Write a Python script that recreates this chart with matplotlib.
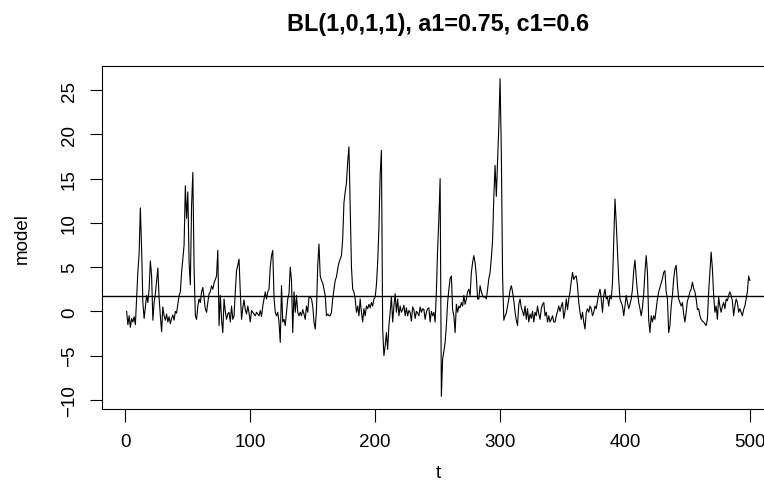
import numpy as np
import matplotlib
matplotlib.use('Agg')
import matplotlib.pyplot as plt

# values, t = 1..500 (50 per row)
model = [
    0.0, -1.5, -0.5, -1.8, -0.8, -1.2, -0.6, -1.5, 1.5, 4.5,
    6.5, 11.7, 7.0, 1.0, -0.8, 0.5, 1.8, 1.0, 2.5, 5.7,
    4.0, -1.0, 1.0, 2.0, 3.5, 4.9, 1.5, -0.5, -2.3, 0.5,
    -0.5, -1.0, -0.3, -1.2, -0.6, -1.4, -0.8, -0.4, -1.0, 0.0,
    -0.2, 0.8, 1.8, 2.2, 4.4, 5.9, 7.5, 14.2, 10.5, 13.5,
    # 51-100
    5.5, 3.0, 12.0, 15.7, 5.0, -0.5, -0.9, 0.6, 1.4, 1.0,
    2.2, 2.7, 1.5, 0.3, -0.1, 1.0, 2.0, 2.2, 2.9, 2.5,
    3.2, 3.6, 4.0, 6.9, -1.6, 1.8, -0.9, -2.4, 1.4, 0.0,
    -0.9, -0.3, -0.1, -1.2, 0.6, -0.9, -0.5, 2.2, 4.6, 5.2,
    5.9, 2.2, -0.9, 0.4, 1.3, 0.2, -0.3, 0.6, -0.2, -1.2,
    # 101-150
    0.1, -0.1, -0.3, -0.5, -0.1, -0.3, -0.5, 0.1, -0.6, 0.6,
    1.4, 2.2, 1.4, 2.2, 2.5, 5.0, 6.3, 6.9, 1.6, -0.1,
    -0.5, -0.1, -1.2, -3.5, 2.9, -1.2, -0.9, -1.6, -0.1, 1.4,
    2.0, 5.0, 3.5, -2.4, 2.2, -0.1, 1.8, -0.1, -0.5, -0.1,
    -0.5, 0.2, -0.3, -0.9, 0.6, -0.1, 1.6, 1.6, 1.4, 0.6,
    # 151-200
    -1.2, -2.0, 0.2, 5.2, 7.6, 4.0, 3.5, 3.2, 2.5, 1.8,
    -0.5, -0.3, -0.5, -0.5, -0.1, 1.4, 2.5, 3.5, 3.9, 4.8,
    5.5, 5.9, 6.3, 8.2, 12.3, 13.5, 14.5, 16.9, 18.6, 12.0,
    5.0, 2.5, 2.2, 1.4, -0.1, 0.6, -0.5, 1.4, -0.1, -1.2,
    0.3, -0.5, 0.6, 0.3, 0.8, 0.4, 1.0, 0.6, 1.4, 1.6,
    # 201-250
    3.0, 5.5, 9.5, 15.5, 18.2, -2.0, -5.0, -3.9, -2.4, -4.3,
    -1.6, -0.1, 1.7, -1.2, 0.6, 2.0, -0.1, 1.4, -0.5, 0.6,
    -0.1, 0.2, 0.7, -0.5, 0.4, -0.5, 0.1, -0.1, -1.1, 0.5,
    0.2, -0.8, 0.0, -0.2, -0.5, 0.5, -0.1, 0.3, 0.2, -0.9,
    -0.1, 0.3, 0.4, -1.2, 0.0, -0.5, -0.1, -1.2, 2.2, 7.0,
    # 251-300
    10.5, 15.0, -9.6, -5.4, -4.5, -3.5, -1.6, 1.0, 2.5, 3.7,
    4.0, 0.2, -0.5, -2.4, 0.8, -0.1, 0.6, 0.4, 1.0, 0.6,
    1.8, 0.8, 1.4, 2.2, 2.5, 1.8, 4.4, 5.5, 6.3, 5.5,
    4.0, 1.4, 1.4, 2.9, 2.2, 1.8, 1.6, 1.7, 1.4, 2.5,
    3.7, 4.4, 6.0, 8.0, 13.0, 16.5, 13.0, 17.0, 21.0, 26.3,
    # 301-350
    18.0, 4.0, -1.0, -0.5, -0.2, 0.6, 1.4, 2.4, 2.9, 2.2,
    1.2, -0.1, -1.0, -1.6, 0.8, 1.4, 0.4, 0.0, -0.5, 0.6,
    -0.9, 0.3, -1.2, -0.3, -0.8, 0.0, -1.2, -0.1, -0.5, 0.6,
    -0.3, -0.9, 0.3, 0.8, 1.0, -0.5, -0.1, -1.2, -0.5, -1.2,
    -0.9, -0.5, -1.2, -1.2, -0.5, 0.0, 0.6, 0.0, 0.6, 1.0,
    # 351-400
    -0.8, 0.0, 1.4, 0.2, 1.4, 2.2, 3.4, 4.4, 3.6, 3.9,
    4.0, 2.9, 1.0, -0.1, -0.9, -0.1, -1.2, -2.0, -0.1, 0.3,
    -0.1, 0.6, 0.3, -0.5, -0.1, 0.6, 0.3, 1.2, 2.0, 2.5,
    1.4, -0.1, 1.8, 2.5, 1.4, 1.6, 0.6, 1.8, 1.4, 3.2,
    8.0, 12.7, 10.0, 6.7, 3.6, 1.4, 1.0, 0.6, -0.5, 0.6,
    # 401-450
    1.8, 1.0, 0.3, 0.8, 1.4, 2.5, 4.6, 5.8, 3.8, 2.2,
    1.0, 0.3, -0.5, 0.4, 2.0, 4.4, 6.3, 4.4, -1.0, -2.4,
    -0.5, -1.2, -0.5, -0.9, 0.3, 1.4, 2.2, 2.7, 3.2, 3.7,
    4.4, 4.6, 2.2, 1.4, -2.4, -1.6, 0.6, 1.8, 3.7, 4.8,
    5.2, 3.0, 1.4, 1.0, 0.6, 1.0, -0.3, -1.2, -0.1, 1.2,
    # 451-500
    1.6, 2.2, 2.5, 3.3, 2.6, 2.2, 1.4, 0.2, 0.3, -0.5,
    -0.9, -1.1, -1.2, -1.4, -1.6, -0.9, 2.2, 4.4, 6.7, 4.8,
    1.8, -0.1, 0.6, -0.9, 1.6, 0.6, -0.1, 0.6, 1.0, 0.3,
    1.4, 1.2, 1.8, 2.2, 1.8, 1.2, -0.5, 0.6, 1.4, 1.0,
    -0.1, 0.3, -0.1, -0.5, 0.2, 0.6, 1.4, 2.2, 4.0, 3.5,
]
t = np.arange(1, len(model) + 1)

x_ticks = [0, 100, 200, 300, 400, 500]
y_ticks = [-10, -5, 0, 5, 10, 15, 20, 25]

plt.rcParams['font.family'] = ['Liberation Sans', 'DejaVu Sans']

fig = plt.figure(figsize=(7.64, 5.02), dpi=100)
# plot box runs past the right edge, like the cropped reference
ax = fig.add_axes([101.7 / 764, 1 - 410 / 502, 673.1 / 764, 343 / 502])

ax.plot(t, model, color='black', lw=0.8)
ax.margins(x=0.04, y=0.04)
ax.axhline(np.mean(model), color='black', lw=1.0)

ax.set_xticks(x_ticks)
ax.set_yticks(y_ticks)
ax.tick_params(direction='out', length=9, width=0.8, labelsize=13.5, pad=8)
ax.tick_params(axis='y', labelrotation=90)
for lab in ax.get_yticklabels():
    lab.set_va('center')
for s in ax.spines.values():
    s.set_linewidth(0.8)

ax.set_xlabel('t', fontsize=13.5, labelpad=10)
ax.set_ylabel('model', fontsize=13.5, labelpad=22)
ax.set_title('BL(1,0,1,1), a1=0.75, c1=0.6', fontsize=16.8,
             fontweight='bold', pad=26)

fig.savefig('out.png', dpi=100)
